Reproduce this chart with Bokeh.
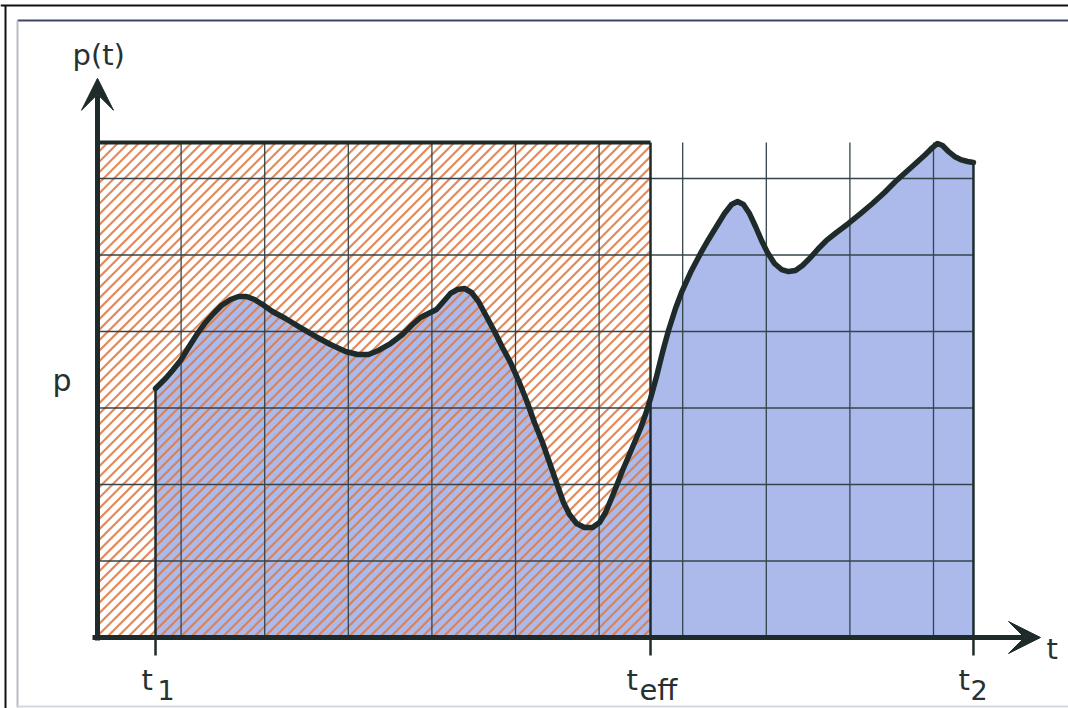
import numpy as np
from bokeh.plotting import figure
from bokeh.models import Range1d, Label, Arrow, VeeHead
from bokeh.embed import file_html
from bokeh.resources import INLINE

# ---- data (grid units) ----
t_vals = [0.694, 0.754, 0.825, 0.897, 0.993, 1.089, 1.196, 1.292, 1.388, 1.483,
          1.591, 1.687, 1.782, 1.878, 1.974, 2.093, 2.249, 2.428, 2.608, 2.787,
          2.967, 3.110, 3.242, 3.361, 3.505, 3.648, 3.768, 3.864, 3.959, 4.055,
          4.139, 4.222, 4.306, 4.390, 4.474, 4.557, 4.653, 4.749, 4.844, 4.940,
          5.036, 5.132, 5.227, 5.323, 5.419, 5.502, 5.574, 5.646, 5.730, 5.825,
          5.921, 6.005, 6.077, 6.148, 6.220, 6.280, 6.352, 6.423, 6.495, 6.555,
          6.615, 6.687, 6.758, 6.830, 6.914, 6.986, 7.093, 7.213, 7.309, 7.404,
          7.500, 7.584, 7.656, 7.727, 7.799, 7.871, 7.943, 8.014, 8.098, 8.182,
          8.266, 8.349, 8.433, 8.529, 8.624, 8.720, 8.840, 8.983, 9.127, 9.270,
          9.414, 9.545, 9.665, 9.785, 9.904, 9.988, 10.048, 10.108, 10.179, 10.251,
          10.323, 10.407, 10.478]
p_vals = [3.255, 3.320, 3.399, 3.490, 3.621, 3.791, 3.974, 4.118, 4.235, 4.340,
          4.418, 4.458, 4.458, 4.418, 4.353, 4.261, 4.170, 4.052, 3.935, 3.830,
          3.739, 3.699, 3.699, 3.752, 3.843, 3.961, 4.092, 4.183, 4.235, 4.288,
          4.392, 4.497, 4.549, 4.562, 4.510, 4.392, 4.196, 4.000, 3.791, 3.595,
          3.359, 3.098, 2.810, 2.549, 2.248, 1.987, 1.765, 1.608, 1.490, 1.438,
          1.438, 1.503, 1.634, 1.817, 2.013, 2.183, 2.366, 2.549, 2.732, 2.915,
          3.124, 3.412, 3.725, 4.013, 4.301, 4.510, 4.771, 5.020, 5.203, 5.373,
          5.542, 5.660, 5.699, 5.660, 5.542, 5.373, 5.190, 5.033, 4.889, 4.810,
          4.784, 4.797, 4.863, 4.967, 5.085, 5.190, 5.294, 5.412, 5.542, 5.673,
          5.817, 5.961, 6.078, 6.196, 6.314, 6.405, 6.458, 6.431, 6.353, 6.288,
          6.248, 6.222, 6.209]
t_grid = [1, 2, 3, 4, 5, 6, 7, 8, 9, 10]
p_grid = [1, 2, 3, 4, 5, 6]
t1 = t_vals[0]
t2 = t_vals[-1]
t_eff = 6.615
p_box = 6.47
t_arrow = 11.28
p_arrow = 7.31

# ---- pixel helpers (image coords -> data units) for annotations ----
X0, SX = 97.0, 83.6
Y0, SY = 637.0, 76.5
def gx(px):
    return (px - X0) / SX
def gy(py):
    return (Y0 - py) / SY

DARK = "#1f2b2b"
GRID = "#34444a"
TXT = "#263131"
FONT = "DejaVu Sans"
W, H = 1068, 708

p = figure(width=W, height=H, output_backend="svg", toolbar_location=None,
           x_range=Range1d(gx(0), gx(W)), y_range=Range1d(gy(H), gy(0)),
           min_border=0, outline_line_color=None, background_fill_color="white")
p.axis.visible = False
p.grid.visible = False

# scan frame lines
p.line([gx(0), gx(W)], [gy(5), gy(5)], line_color="#111111", line_width=2)
p.line([gx(5), gx(5)], [gy(5), gy(H)], line_color="#111111", line_width=2)
p.line([gx(17), gx(W)], [gy(20), gy(20)], line_color="#3c4566", line_width=2)
p.line([gx(17), gx(17)], [gy(20), gy(707)], line_color="#b8bcc4", line_width=2)
p.line([gx(17), gx(W)], [gy(706), gy(706)], line_color="#d4d8de", line_width=2)

# blue area under curve
p.varea(x=t_vals, y1=[0] * len(t_vals), y2=p_vals, fill_color="#abbaeb", fill_alpha=1)

# 45-degree hatching of the rectangle 0..t_eff x 0..p_box (pattern, in screen pixels)
Wr, Hr = t_eff * SX, p_box * SY
step = 10.5
hx0, hy0, hx1, hy1 = [], [], [], []
for c in np.arange(-Hr, Wr, step):
    us = max(0.0, c)
    ue = min(Wr, Hr + c)
    if ue > us:
        hx0.append(us / SX); hy0.append((us - c) / SY)
        hx1.append(ue / SX); hy1.append((ue - c) / SY)
p.segment(x0=hx0, y0=hy0, x1=hx1, y1=hy1, line_color="#de7c48", line_width=2.2, line_alpha=0.9)

# grid
p.segment(x0=t_grid, y0=[0] * len(t_grid), x1=t_grid, y1=[p_box] * len(t_grid),
          line_color=GRID, line_width=1.3)
p.segment(x0=[0] * len(p_grid), y0=p_grid, x1=[t2] * len(p_grid), y1=p_grid,
          line_color=GRID, line_width=1.3)

# boundary lines
p.segment(x0=[t1, t2, t_eff], y0=[0, 0, 0], x1=[t1, t2, t_eff], y1=[p_vals[0], p_vals[-1], p_box],
          line_color=DARK, line_width=2.5)
p.line([0, t_eff], [p_box, p_box], line_color=DARK, line_width=4)

# curve
p.line(t_vals, p_vals, line_color=DARK, line_width=5.5, line_join="round", line_cap="round")

# ticks
tick_len = gy(655)
p.segment(x0=[t1, t_eff, t2], y0=[0, 0, 0], x1=[t1, t_eff, t2], y1=[tick_len] * 3,
          line_color=DARK, line_width=2.5)

# axes with arrows
p.add_layout(Arrow(end=VeeHead(size=32, fill_color=DARK, line_color=DARK),
                   x_start=gx(92), y_start=0, x_end=t_arrow, y_end=0,
                   line_color=DARK, line_width=5))
p.add_layout(Arrow(end=VeeHead(size=32, fill_color=DARK, line_color=DARK),
                   x_start=0, y_start=gy(640), x_end=0, y_end=p_arrow,
                   line_color=DARK, line_width=5))

def lab(x, y, text, size):
    p.add_layout(Label(x=x, y=y, text=text, text_font=FONT, text_font_size=f"{size}px",
                       text_color=TXT, text_align="left", text_baseline="alphabetic"))

lab(gx(72), gy(54), "p(t)", 29)
lab(gx(52), gy(380), "p", 30)
lab(gx(1046), gy(648), "t", 29)
lab(gx(141), gy(679), "t", 29)
lab(gx(157), gy(689), "1", 27)
lab(gx(626), gy(679), "t", 29)
lab(gx(639), gy(689), "eff", 29)
lab(gx(958), gy(679), "t", 29)
lab(gx(970), gy(689), "2", 27)

open("out.html", "w").write(file_html(p, INLINE))
